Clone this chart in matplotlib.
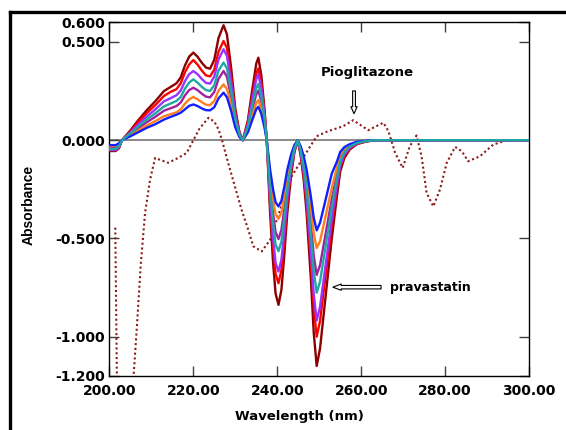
import matplotlib.pyplot as plt
from matplotlib.lines import Line2D

# wavelength grid (nm) shared by the pravastatin derivative curves
wl = [200, 201.5, 202.3, 203, 205, 207, 209, 211, 213, 214.5, 216, 217, 218, 219, 220,
      221, 222, 223, 224, 225, 226, 227.2, 228, 229, 230, 231, 231.8, 233, 234, 235,
      235.5, 236.2, 237, 237.5, 238.3, 239, 239.6, 240.3, 241, 241.7, 242.4, 243.3,
      244.1, 244.9, 245.6, 246.3, 247, 248, 248.7, 249.4, 250.2, 251, 252, 253, 254.2,
      255, 256, 257.3, 259, 261, 263, 300]

darkred = [-0.055, -0.055, -0.04, 0.0, 0.05, 0.105, 0.155, 0.20, 0.25, 0.27, 0.29, 0.32, 0.38, 0.425, 0.446,
           0.425, 0.395, 0.37, 0.364, 0.41, 0.52, 0.585, 0.54, 0.37, 0.16, 0.04, 0.0, 0.10, 0.25, 0.39,
           0.42, 0.33, 0.15, 0.0, -0.37, -0.62, -0.78, -0.838, -0.76, -0.58, -0.37, -0.18,
           -0.06, 0.0, -0.08, -0.20, -0.37, -0.70, -0.98, -1.149, -1.06, -0.90, -0.70, -0.50, -0.29,
           -0.16, -0.09, -0.047, -0.02, -0.008, 0.0, 0.0]
red = [-0.05, -0.05, -0.035, 0.0, 0.045, 0.095, 0.14, 0.18, 0.225, 0.245, 0.26, 0.29, 0.345, 0.385, 0.408,
       0.385, 0.355, 0.33, 0.325, 0.36, 0.45, 0.505, 0.47, 0.32, 0.14, 0.035, 0.0, 0.087, 0.218, 0.34,
       0.365, 0.287, 0.13, 0.0, -0.32, -0.54, -0.68, -0.728, -0.66, -0.505, -0.32, -0.157,
       -0.052, 0.0, -0.07, -0.174, -0.32, -0.61, -0.85, -1.0, -0.92, -0.78, -0.61, -0.435, -0.25,
       -0.138, -0.078, -0.041, -0.017, -0.007, 0.0, 0.0]
violet = [-0.05, -0.05, -0.035, 0.0, 0.04, 0.083, 0.122, 0.158, 0.198, 0.213, 0.229, 0.253, 0.30, 0.336, 0.352,
          0.336, 0.312, 0.292, 0.288, 0.324, 0.41, 0.463, 0.43, 0.296, 0.128, 0.032, 0.0, 0.08, 0.20, 0.312,
          0.336, 0.264, 0.12, 0.0, -0.296, -0.496, -0.624, -0.668, -0.608, -0.464, -0.296, -0.144,
          -0.048, 0.0, -0.064, -0.16, -0.296, -0.56, -0.784, -0.918, -0.848, -0.72, -0.56, -0.40, -0.232,
          -0.128, -0.072, -0.038, -0.016, -0.006, 0.0, 0.0]
teal = [-0.045, -0.045, -0.03, 0.0, 0.035, 0.072, 0.107, 0.138, 0.172, 0.186, 0.20, 0.22, 0.262, 0.293, 0.31,
        0.293, 0.272, 0.255, 0.251, 0.28, 0.354, 0.395, 0.367, 0.252, 0.109, 0.027, 0.0, 0.068, 0.17, 0.265,
        0.286, 0.224, 0.102, 0.0, -0.25, -0.42, -0.53, -0.565, -0.515, -0.394, -0.25, -0.122,
        -0.041, 0.0, -0.054, -0.136, -0.25, -0.475, -0.665, -0.776, -0.72, -0.61, -0.475, -0.34, -0.197,
        -0.109, -0.061, -0.032, -0.014, -0.005, 0.0, 0.0]
purple = [-0.04, -0.04, -0.03, 0.0, 0.03, 0.063, 0.093, 0.12, 0.15, 0.162, 0.174, 0.192, 0.228, 0.255, 0.267,
          0.255, 0.237, 0.222, 0.218, 0.246, 0.312, 0.352, 0.324, 0.222, 0.096, 0.024, 0.0, 0.06, 0.15, 0.234,
          0.252, 0.198, 0.09, 0.0, -0.222, -0.372, -0.468, -0.503, -0.456, -0.348, -0.222, -0.108,
          -0.036, 0.0, -0.048, -0.12, -0.222, -0.42, -0.588, -0.685, -0.636, -0.54, -0.42, -0.30, -0.174,
          -0.096, -0.054, -0.028, -0.012, -0.005, 0.0, 0.0]
orange = [-0.03, -0.03, -0.02, 0.0, 0.025, 0.051, 0.076, 0.098, 0.122, 0.132, 0.142, 0.157, 0.186, 0.208, 0.22,
          0.208, 0.194, 0.181, 0.178, 0.20, 0.252, 0.284, 0.262, 0.18, 0.078, 0.019, 0.0, 0.049, 0.121, 0.19,
          0.204, 0.16, 0.073, 0.0, -0.18, -0.30, -0.378, -0.40, -0.368, -0.281, -0.18, -0.087,
          -0.029, 0.0, -0.039, -0.097, -0.18, -0.34, -0.475, -0.549, -0.514, -0.437, -0.34, -0.243, -0.141,
          -0.078, -0.044, -0.023, -0.01, -0.004, 0.0, 0.0]
blue = [-0.025, -0.025, -0.015, 0.0, 0.02, 0.042, 0.064, 0.082, 0.105, 0.118, 0.13, 0.14, 0.157, 0.175, 0.182,
        0.174, 0.162, 0.153, 0.152, 0.168, 0.213, 0.242, 0.219, 0.15, 0.065, 0.016, 0.0, 0.04, 0.10, 0.158,
        0.17, 0.134, 0.061, 0.0, -0.15, -0.25, -0.316, -0.337, -0.308, -0.235, -0.15, -0.073,
        -0.024, 0.0, -0.032, -0.081, -0.15, -0.285, -0.395, -0.459, -0.42, -0.35, -0.26, -0.17, -0.11,
        -0.06, -0.035, -0.02, -0.008, -0.003, 0.0, 0.0]

# pioglitazone (dotted)
pio_wl = [201.4, 201.8, 203.7, 205.6, 206.5, 207.5, 208.5, 209.7, 210.9, 212.1, 214.0, 216.4, 218.4,
          220.0, 221.5, 223.6, 225.0, 226.0, 226.8, 228.3, 229.9, 231.5, 233.1, 234.3, 236.3, 238.3,
          240.7, 243.0, 245.4, 247.4, 249.4, 252.0, 255.7, 258.1, 260.0, 261.7, 263.5, 265.3, 266.5,
          268.1, 269.9, 271.6, 273.2, 274.4, 275.6, 277.2, 278.8, 280.4, 282.4, 284.0, 285.5, 288.3,
          291.5, 294.7, 300]
pio = [-0.445, -1.25, -1.6, -1.25, -0.966, -0.625, -0.37, -0.20, -0.09, -0.10, -0.115, -0.09, -0.065,
       0.0, 0.06, 0.114, 0.095, 0.055, 0.003, -0.115, -0.235, -0.354, -0.456, -0.54, -0.566, -0.507,
       -0.354, -0.20, -0.115, -0.047, 0.02, 0.045, 0.071, 0.102, 0.075, 0.051, 0.07, 0.089, 0.046,
       -0.064, -0.141, -0.03, 0.024, -0.082, -0.268, -0.337, -0.25, -0.115, -0.034, -0.056, -0.107, -0.082,
       -0.022, 0.0, 0.0]

series = [darkred, red, violet, purple, orange, blue, teal]
colors = ['#8B0000', '#FF0000', '#9933FF', '#A020A0', '#FF7F1E', '#1020FF', '#20A8A0']

yticks = [0.6, 0.5, 0.0, -0.5, -1.0, -1.2]
xticks = [200, 220, 240, 260, 280, 300]

fig = plt.figure(figsize=(5.66, 4.30), dpi=100)
ax = fig.add_axes([0.1933, 0.1256, 0.7413, 0.8225])

ax.axhline(0, color='#808080', lw=1.3, zorder=1)
ax.plot(pio_wl, pio, color='#8B1A1A', lw=1.5, ls=(0, (1, 1.3)), zorder=2)
for y, c in zip(series, colors):
    ax.plot(wl, y, color=c, lw=1.7, zorder=3)

ax.set_xlim(200, 300)
ax.set_ylim(-1.2, 0.6)
ax.set_xticks(xticks)
ax.set_yticks(yticks)
ax.set_xticklabels(['%.2f' % v for v in xticks])
ax.set_yticklabels(['%.3f' % v for v in yticks])
ax.tick_params(direction='in', length=7, width=1, top=True, right=True, color='#404040')
for lab in ax.get_xticklabels() + ax.get_yticklabels():
    lab.set_fontweight('bold')
    lab.set_fontsize(10)
ax.tick_params(axis='x', pad=6)
ax.tick_params(axis='y', pad=3)
for s in ax.spines.values():
    s.set_linewidth(1)

ax.set_xlabel('Wavelength (nm)', fontweight='bold', fontsize=9.5)
ax.xaxis.set_label_coords(0.454, -0.096)
ax.set_ylabel('Absorbance', fontweight='bold', fontsize=10, family='Liberation Sans')
ax.yaxis.set_label_coords(-0.175, 0.483)

ax.text(261.4, 0.345, 'Pioglitazone', fontweight='bold', fontsize=9.5, ha='center', va='center')
ax.annotate('', xy=(258.3, 0.121), xytext=(258.3, 0.265),
            arrowprops=dict(arrowstyle='simple,head_length=0.5,head_width=0.45,tail_width=0.2',
                            fc='white', ec='black', lw=0.8))
ax.text(266.9, -0.748, 'pravastatin', fontweight='bold', fontsize=9, ha='left', va='center')
ax.annotate('', xy=(252.6, -0.748), xytext=(265.4, -0.748),
            arrowprops=dict(arrowstyle='simple,head_length=0.6,head_width=0.45,tail_width=0.25',
                            fc='white', ec='black', lw=0.8))

# black frame around the figure
fig.add_artist(Line2D([0.0168, 0.0168], [0.0, 0.972], color='black', lw=2.4))
fig.add_artist(Line2D([0.0168, 1.0], [0.972, 0.972], color='black', lw=2.4))

fig.savefig('out.png', dpi=100)
